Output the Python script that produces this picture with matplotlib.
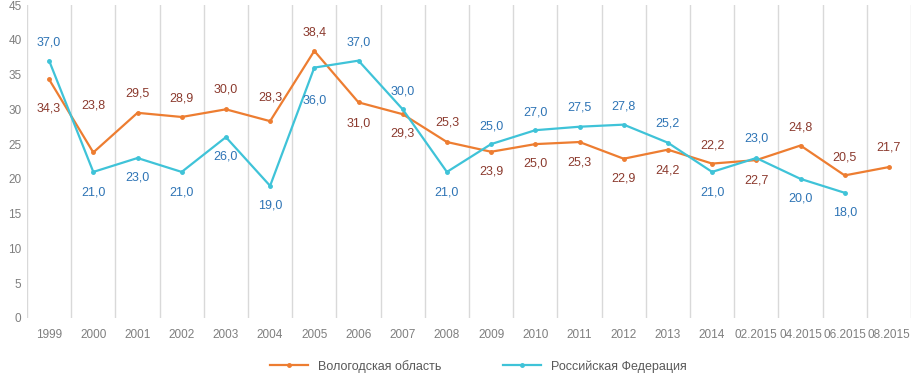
import numpy as np
import matplotlib
matplotlib.use("Agg")
import matplotlib.pyplot as plt

plt.rcParams['font.family'] = ['Liberation Sans', 'DejaVu Sans']

# Data
categories = ['1999', '2000', '2001', '2002', '2003', '2004', '2005', '2006', '2007',
              '2008', '2009', '2010', '2011', '2012', '2013', '2014',
              '02.2015', '04.2015', '06.2015', '08.2015']
vologda = [34.3, 23.8, 29.5, 28.9, 30.0, 28.3, 38.4, 31.0, 29.3, 25.3,
           23.9, 25.0, 25.3, 22.9, 24.2, 22.2, 22.7, 24.8, 20.5, 21.7]
russia = [37.0, 21.0, 23.0, 21.0, 26.0, 19.0, 36.0, 37.0, 30.0, 21.0,
          25.0, 27.0, 27.5, 27.8, 25.2, 21.0, 23.0, 20.0, 18.0, np.nan]
series_names = ['Вологодская область', 'Российская Федерация']

# label offsets in points (negative = below the point)
vologda_off = [-21, 34, 14, 13, 14, 17, 13, -15, -14, 14,
               -14, -14, -15, -14, -15, 13, -15, 13, 13, 14]
russia_off = [13, -15, -14, -15, -14, -14, -24, 13, 13, -15,
              13, 13, 14, 13, 14, -15, 14, -14, -14, 0]

orange = '#ED7D31'
cyan = '#3FC3D8'
orange_lbl = '#8B3A2E'
cyan_lbl = '#2E74B5'
gray = '#7F7F7F'

fig = plt.figure(figsize=(9.13, 3.80), dpi=100)
ax = fig.add_axes([27 / 913, 62 / 380, 884 / 913, 313 / 380])

x = np.arange(len(categories))
ax.plot(x, vologda, color=orange, lw=1.6, marker='o', ms=2.5, label=series_names[0])
ax.plot(x, russia, color=cyan, lw=1.6, marker='o', ms=2.5, label=series_names[1])

def fmt(v):
    return f"{v:.1f}".replace('.', ',')

for xi, v, off in zip(x, vologda, vologda_off):
    ax.annotate(fmt(v), (xi, v), xytext=(0, off), textcoords='offset points',
                ha='center', va='center', fontsize=9, color=orange_lbl)
for xi, v, off in zip(x, russia, russia_off):
    if np.isnan(v):
        continue
    ax.annotate(fmt(v), (xi, v), xytext=(0, off), textcoords='offset points',
                ha='center', va='center', fontsize=9, color=cyan_lbl)

ax.set_xlim(-0.5, len(categories) - 0.5)
ax.set_ylim(0, 45)
ax.set_yticks(np.arange(0, 46, 5))
ax.set_xticks(x)
ax.set_xticklabels(categories)
ax.set_xticks(np.arange(-0.5, len(categories), 1), minor=True)
ax.grid(axis='x', which='minor', color='#D9D9D9', lw=1)
ax.grid(axis='x', which='major', visible=False)
ax.tick_params(which='both', length=0)
ax.tick_params(axis='both', labelsize=8.5, colors=gray)
ax.tick_params(axis='x', pad=8)
ax.tick_params(axis='y', pad=4)
for s in ax.spines.values():
    s.set_visible(False)

fig.legend(loc='lower center', bbox_to_anchor=(0.524, -0.01), ncol=2, frameon=False,
           fontsize=9, handlelength=3, columnspacing=5, labelcolor='#595959')

fig.savefig('out.png', dpi=100)
